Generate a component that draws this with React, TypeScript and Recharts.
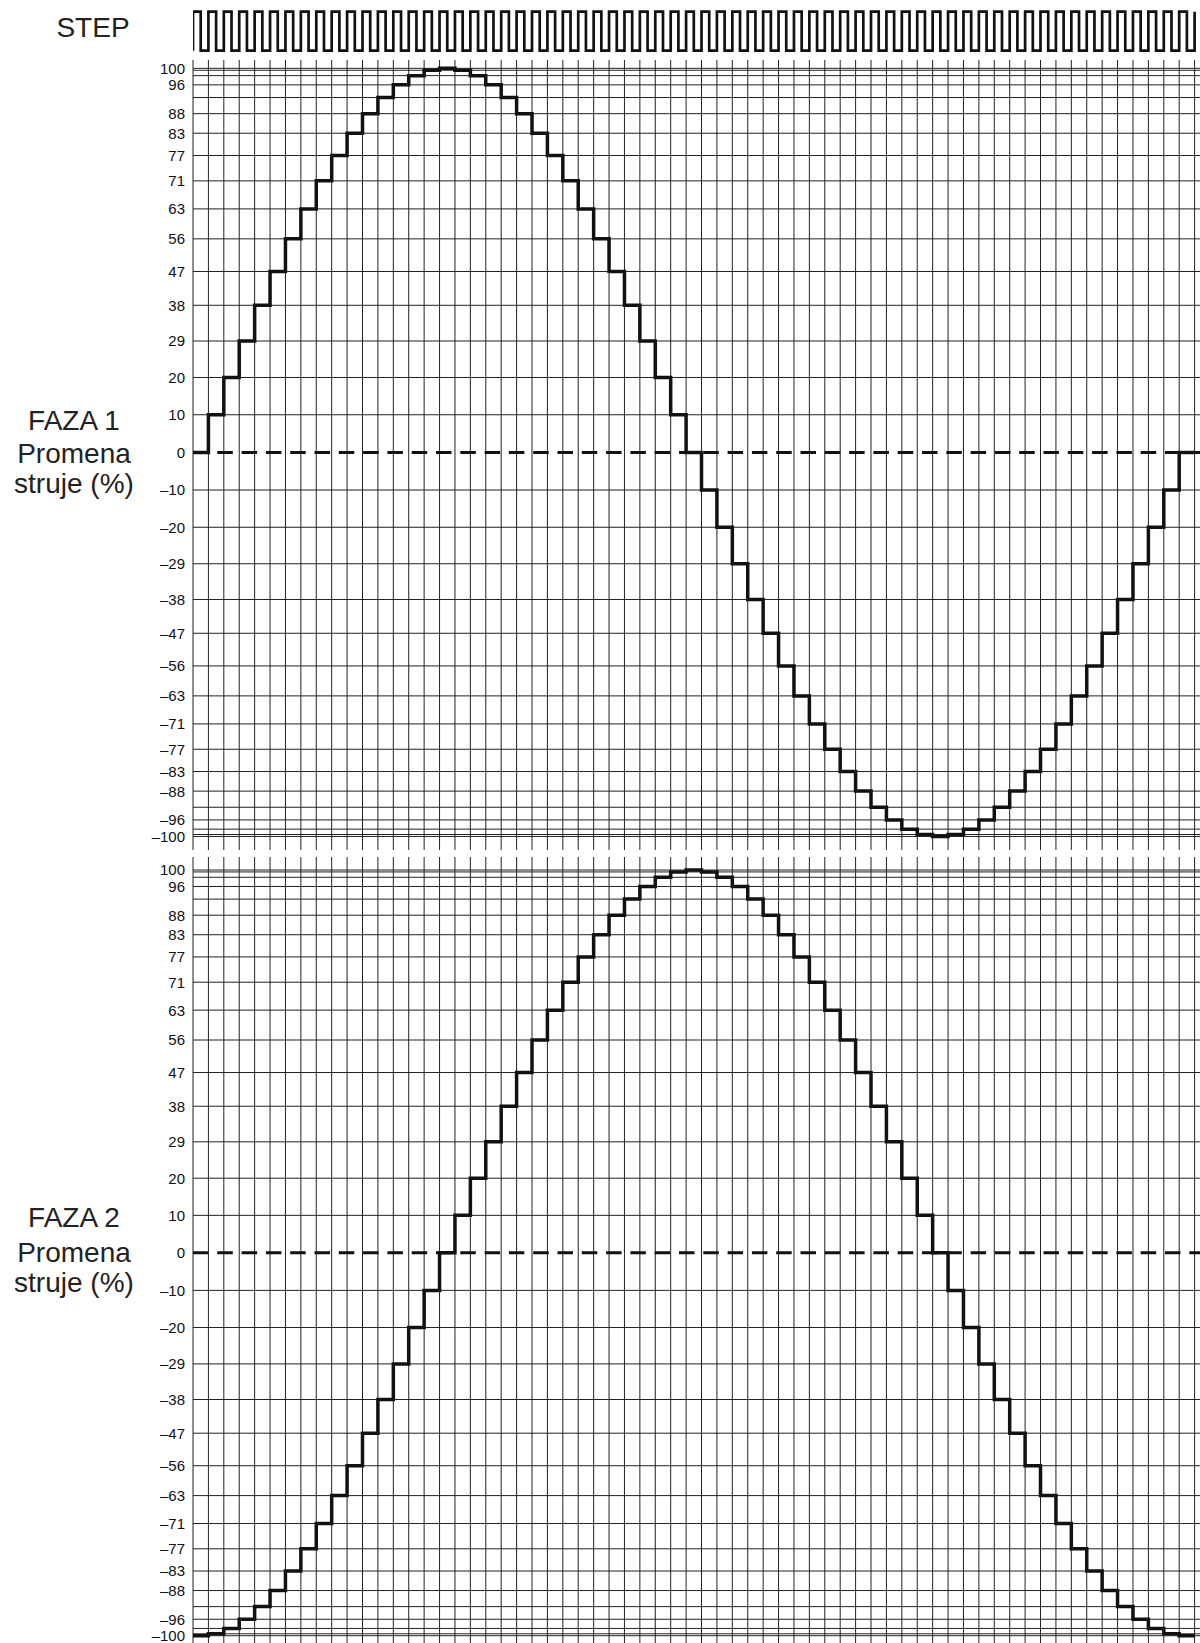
import React from "react";
import {
  LineChart,
  Line,
  XAxis,
  YAxis,
  CartesianGrid,
  ReferenceLine,
} from "recharts";

// current change per step, phase 1 and phase 2 (%), 64 steps per period + closing step
const phase1 = [
  0, 9.8, 19.5, 29, 38.3, 47.1, 55.6, 63.4, 70.7, 77.3, 83.1, 88.2, 92.4, 95.7, 98.1, 99.5,
  100, 99.5, 98.1, 95.7, 92.4, 88.2, 83.1, 77.3, 70.7, 63.4, 55.6, 47.1, 38.3, 29, 19.5, 9.8,
  0, -9.8, -19.5, -29, -38.3, -47.1, -55.6, -63.4, -70.7, -77.3, -83.1, -88.2, -92.4, -95.7, -98.1, -99.5,
  -100, -99.5, -98.1, -95.7, -92.4, -88.2, -83.1, -77.3, -70.7, -63.4, -55.6, -47.1, -38.3, -29, -19.5, -9.8,
  0,
];
const phase2 = [
  -100, -99.5, -98.1, -95.7, -92.4, -88.2, -83.1, -77.3, -70.7, -63.4, -55.6, -47.1, -38.3, -29, -19.5, -9.8,
  0, 9.8, 19.5, 29, 38.3, 47.1, 55.6, 63.4, 70.7, 77.3, 83.1, 88.2, 92.4, 95.7, 98.1, 99.5,
  100, 99.5, 98.1, 95.7, 92.4, 88.2, 83.1, 77.3, 70.7, 63.4, 55.6, 47.1, 38.3, 29, 19.5, 9.8,
  0, -9.8, -19.5, -29, -38.3, -47.1, -55.6, -63.4, -70.7, -77.3, -83.1, -88.2, -92.4, -95.7, -98.1, -99.5,
  -100,
];

// y grid levels and the labels printed next to them ("" = line without label)
const yTicks = [
  100, 99.5, 98.1, 95.7, 92.4, 88.2, 83.1, 77.3, 70.7, 63.4, 55.6, 47.1, 38.3, 29, 19.5, 9.8, 0,
  -9.8, -19.5, -29, -38.3, -47.1, -55.6, -63.4, -70.7, -77.3, -83.1, -88.2, -92.4, -95.7, -98.1, -99.5, -100,
];
const yLabels = [
  "100", "", "", "96", "", "88", "83", "77", "71", "63", "56", "47", "38", "29", "20", "10", "0",
  "–10", "–20", "–29", "–38", "–47", "–56", "–63", "–71", "–77", "–83", "–88", "", "–96", "", "", "–100",
];

const STEPS = 65;
const slotTicks = Array.from({ length: STEPS + 1 }, (_, i) => i);
const gridLevels = yTicks.filter((v) => v !== 0);
const labelOf = new Map(yTicks.map((v, i) => [v, yLabels[i]]));

const FONT = "'Liberation Sans', Arial, Helvetica, sans-serif";
const INK = "#111";
const GRID = "#222";
const X_DOMAIN: [number, number] = [0, 65.35];

const toRows = (vals: number[]) => [
  ...vals.map((v, i) => ({ x: i, v })),
  { x: STEPS, v: vals[vals.length - 1] },
];

// clock: high for first half of every step slot
const clockRows = [{ x: 0, v: 0 }];
for (let i = 0; i < STEPS; i++) {
  clockRows.push({ x: i, v: 1 }, { x: i + 0.5, v: 0 });
}
clockRows.push({ x: STEPS, v: 1 });

const YTick = (props: any) => {
  const { x, y, payload } = props;
  const label = labelOf.get(payload.value) ?? "";
  if (!label) return <g />;
  return (
    <text x={x} y={y} dy="0.36em" textAnchor="end" fontSize={15} fill="#111" fontFamily={FONT}>
      {label}
    </text>
  );
};

function PhasePanel({
  values,
  height,
  top,
  domain,
}: {
  values: number[];
  height: number;
  top: number;
  domain: [number, number];
}) {
  return (
    <LineChart
      width={1200}
      height={height}
      data={toRows(values)}
      margin={{ top, right: 0, left: 0, bottom: 0 }}
    >
      <CartesianGrid stroke={GRID} strokeWidth={1} vertical={false} horizontalValues={gridLevels} />
      <XAxis
        type="number"
        dataKey="x"
        domain={X_DOMAIN}
        ticks={slotTicks}
        allowDataOverflow
        height={0}
        tick={false}
        axisLine={false}
        tickLine={false}
      />
      <YAxis
        type="number"
        domain={domain}
        allowDataOverflow
        ticks={yTicks}
        interval={0}
        width={193}
        axisLine={false}
        tickLine={false}
        tick={<YTick />}
      />
      {slotTicks.map((s) => (
        <ReferenceLine key={s} x={s} stroke={GRID} strokeWidth={1} />
      ))}
      <ReferenceLine y={0} stroke={INK} strokeWidth={3} strokeDasharray="15.5 8.8" />
      <Line
        type="stepAfter"
        dataKey="v"
        stroke={INK}
        strokeWidth={3.5}
        dot={false}
        isAnimationActive={false}
      />
    </LineChart>
  );
}

export default function App() {
  return (
    <div
      style={{
        position: "absolute",
        left: 0,
        top: 0,
        width: 1200,
        height: 1643,
        overflow: "hidden",
        background: "#fff",
      }}
    >
      <div style={{ position: "absolute", left: 0, top: 0 }}>
        <LineChart width={1200} height={58} data={clockRows} margin={{ top: 11.7, right: 0, left: 193, bottom: 7.3 }}>
          <XAxis type="number" dataKey="x" domain={X_DOMAIN} allowDataOverflow hide />
          <YAxis type="number" domain={[0, 1]} hide />
          <Line
            type="stepAfter"
            dataKey="v"
            stroke={INK}
            strokeWidth={2.7}
            dot={false}
            isAnimationActive={false}
          />
        </LineChart>
      </div>
      <div style={{ position: "absolute", left: 0, top: 0 }}>
        <PhasePanel values={phase1} height={850} top={60} domain={[-103.53, 102.17]} />
      </div>
      <div style={{ position: "absolute", left: 0, top: 850 }}>
        <PhasePanel values={phase2} height={800} top={7} domain={[-103.73, 103.4]} />
      </div>
      <svg
        width={1200}
        height={1643}
        style={{ position: "absolute", left: 0, top: 0, pointerEvents: "none" }}
        fontFamily={FONT}
        fontSize={28}
        fill="#222"
        textAnchor="middle"
      >
        <text x={93} y={36.7}>STEP</text>
        <text x={74} y={430}>FAZA 1</text>
        <text x={74} y={462.7}>Promena</text>
        <text x={74} y={492.7}>struje (%)</text>
        <text x={74} y={1226.7}>FAZA 2</text>
        <text x={74} y={1261.7}>Promena</text>
        <text x={74} y={1291.7}>struje (%)</text>
      </svg>
    </div>
  );
}
